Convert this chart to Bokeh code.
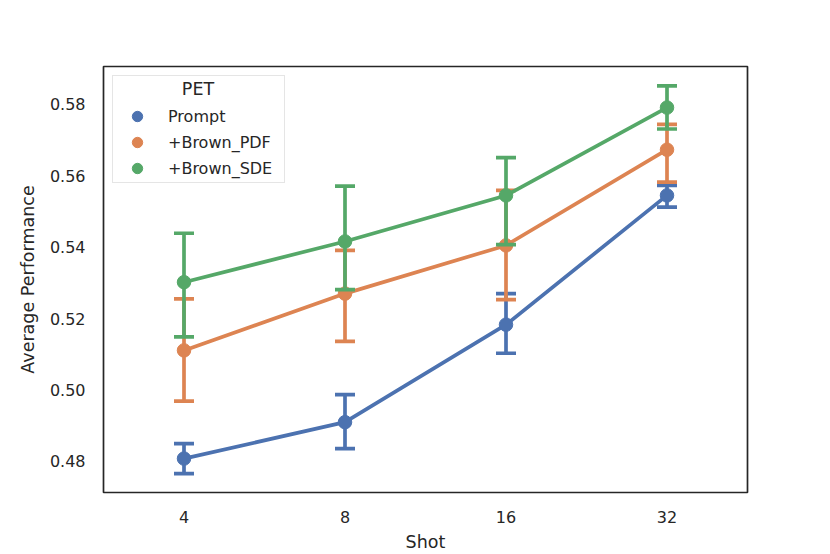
from bokeh.plotting import figure
from bokeh.models import Range1d, FactorRange, Legend, LegendItem, Label, ColumnDataSource, NumeralTickFormatter
from bokeh.embed import file_html
from bokeh.resources import INLINE

shots = ["4", "8", "16", "32"]
series_names = ["Prompt", "+Brown_PDF", "+Brown_SDE"]
colors = ["#4c72b0", "#dd8452", "#55a868"]

prompt_mean = [0.4808, 0.4910, 0.5183, 0.5545]
prompt_lo = [0.4766, 0.4836, 0.5103, 0.5512]
prompt_hi = [0.4850, 0.4987, 0.5270, 0.5573]

pdf_mean = [0.5111, 0.5270, 0.5405, 0.5673]
pdf_lo = [0.4969, 0.5136, 0.5253, 0.5582]
pdf_hi = [0.5255, 0.5391, 0.5559, 0.5744]

sde_mean = [0.5302, 0.5416, 0.5545, 0.5791]
sde_lo = [0.5149, 0.5281, 0.5407, 0.5731]
sde_hi = [0.5439, 0.5571, 0.5651, 0.5852]

means = [prompt_mean, pdf_mean, sde_mean]
los = [prompt_lo, pdf_lo, sde_lo]
his = [prompt_hi, pdf_hi, sde_hi]

FONT = "DejaVu Sans"
TXT = "#262626"

p = figure(width=830, height=554, x_range=FactorRange(factors=shots),
           y_range=Range1d(0.4713, 0.5906), output_backend="svg",
           toolbar_location=None, min_border_left=103, min_border_right=83,
           min_border_top=66, min_border_bottom=62)
p.xgrid.visible = False
p.ygrid.visible = False
p.outline_line_color = TXT
p.outline_line_width = 1.7
p.background_fill_color = "white"
p.border_fill_color = "white"

for ax in (p.xaxis[0], p.yaxis[0]):
    ax.axis_line_color = None
    ax.major_tick_line_color = None
    ax.minor_tick_line_color = None
    ax.major_label_text_font = FONT
    ax.major_label_text_font_size = "16px"
    ax.major_label_text_color = TXT
    ax.axis_label_text_font = FONT
    ax.axis_label_text_font_size = "17.5px"
    ax.axis_label_text_font_style = "normal"
    ax.axis_label_text_color = TXT
    ax.major_label_standoff = 12

p.xaxis.axis_label = "Shot"
p.yaxis.axis_label = "Average Performance"
p.xaxis.axis_label_standoff = 6
p.yaxis.axis_label_standoff = 9
p.yaxis.ticker = [0.48, 0.50, 0.52, 0.54, 0.56, 0.58]
p.yaxis.formatter = NumeralTickFormatter(format="0.00")

items = []
for name, c, m, lo, hi in zip(series_names, colors, means, los, his):
    src = ColumnDataSource(dict(x=shots, m=m, lo=lo, hi=hi))
    p.segment(x0="x", y0="lo", x1="x", y1="hi", source=src, line_color=c, line_width=3.7)
    p.scatter(x="x", y="lo", source=src, marker="dash", size=20, line_color=c, line_width=3.7)
    p.scatter(x="x", y="hi", source=src, marker="dash", size=20, line_color=c, line_width=3.7)
    p.line(x="x", y="m", source=src, line_color=c, line_width=3.7)
    r = p.scatter(x="x", y="m", source=src, marker="circle", size=13.5, fill_color=c, line_color=c)
    items.append(LegendItem(label=name, renderers=[r]))

legend = Legend(items=items, location="top_left", margin=9, padding=1,
                title="PET", title_text_font=FONT, title_text_font_size="17.5px",
                title_text_alpha=0, title_standoff=6,
                label_text_font=FONT, label_text_font_size="16px", label_text_color=TXT,
                glyph_width=46, glyph_height=26, label_height=26, label_width=115,
                label_standoff=8, spacing=0,
                border_line_color="#cccccc", border_line_width=1.2,
                background_fill_color="white", background_fill_alpha=0.0)
p.add_layout(legend)
p.add_layout(Label(x=0.587, y=0.5842, text="PET", text_align="center", text_baseline="middle",
                   text_font=FONT, text_font_size="17.5px", text_color=TXT))

open("out.html", "w").write(file_html(p, INLINE))
